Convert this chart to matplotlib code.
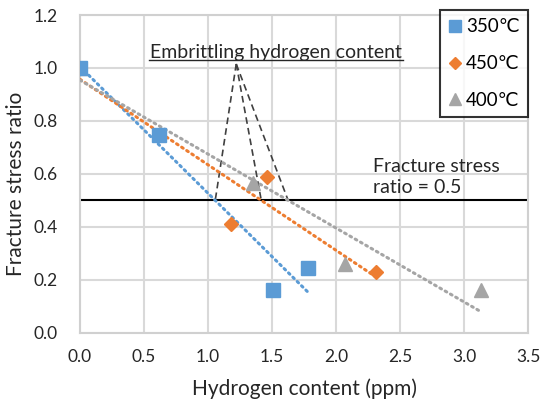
import matplotlib
matplotlib.use('Agg')
import matplotlib.pyplot as plt
import numpy as np

plt.rcParams['font.family'] = ['Lato', 'DejaVu Sans']

# data
x_350 = [0.0, 0.62, 1.51, 1.78]
y_350 = [1.0, 0.745, 0.16, 0.245]
x_450 = [0.0, 1.18, 1.46, 2.31]
y_450 = [1.0, 0.41, 0.59, 0.23]
x_400 = [0.0, 1.35, 2.07, 3.135]
y_400 = [1.0, 0.565, 0.26, 0.16]

series_labels = ['350\u2103', '450\u2103', '400\u2103']
threshold = 0.5
apex = (1.22, 1.015)  # top of the dashed "embrittling" lines

x_ticks = [0.0, 0.5, 1.0, 1.5, 2.0, 2.5, 3.0, 3.5]
y_ticks = [0.0, 0.2, 0.4, 0.6, 0.8, 1.0, 1.2]

colors = ['#5B9BD5', '#ED7D31', '#A5A5A5']
markers = ['s', 'D', '^']
msizes = [10, 7.5, 10]
txt = '#262626'

fig = plt.figure(figsize=(5.42, 4.0), dpi=100)
ax = fig.add_axes([0.1476, 0.168, 0.827, 0.7945])

series = [(x_350, y_350), (x_450, y_450), (x_400, y_400)]
zorders = [6, 5, 4]
crossings = []
for (xs, ys), c, m, ms, lab, z in zip(series, colors, markers, msizes, series_labels, zorders):
    ax.plot(xs, ys, linestyle='none', marker=m, color=c, markersize=ms,
            label=lab, zorder=z)
    # linear trendline (least squares fit like the spreadsheet)
    slope, inter = np.polyfit(xs, ys, 1)
    tx = np.array([0.0, max(xs)])
    ax.plot(tx, slope * tx + inter, linestyle=(0, (0.6, 1.4)), linewidth=2.2,
            color=c, dash_capstyle='round', zorder=3)
    crossings.append((threshold - inter) / slope)

# fracture stress ratio line
ax.axhline(threshold, color='black', linewidth=1.5, zorder=2)

# dashed lines from the label down to where each trendline hits 0.5
for xc in crossings:
    ax.plot([apex[0], xc], [apex[1], threshold], color='#404040',
            linestyle=(0, (4, 2.5)), linewidth=1.2, zorder=2)

ax.text(1.53, 1.06, 'Embrittling hydrogen content', ha='center', va='center',
        fontsize=14, color=txt)
ax.plot([0.54, 2.52], [1.03, 1.03], color=txt, linewidth=1.0)

ax.text(2.29, 0.528, 'Fracture stress\nratio = 0.5', ha='left', va='baseline',
        fontsize=14, color=txt, linespacing=1.3)

ax.set_xlim(0, 3.5)
ax.set_ylim(0, 1.2)
ax.set_xticks(x_ticks)
ax.set_yticks(y_ticks)
ax.set_xticklabels([f'{v:.1f}' for v in x_ticks])
ax.set_yticklabels([f'{v:.1f}' for v in y_ticks])
ax.tick_params(length=0, labelsize=12.5, colors=txt)
ax.tick_params(axis='x', pad=12)
ax.tick_params(axis='y', pad=16)
ax.grid(True, color='#D9D9D9', linewidth=1.5, zorder=0)
ax.set_axisbelow(True)
for sp in ax.spines.values():
    sp.set_color('#D0D0D0')
    sp.set_linewidth(1.5)

ax.set_xlabel('Hydrogen content (ppm)', fontsize=15, color=txt)
ax.set_ylabel('Fracture stress ratio', fontsize=15, color=txt)
ax.xaxis.label.set_verticalalignment('baseline')
ax.xaxis.set_label_coords(0.5, -0.195)
ax.yaxis.label.set_verticalalignment('center')
ax.yaxis.set_label_coords(-0.142, 0.47)

leg = ax.legend(loc='upper right', bbox_to_anchor=(528 / 542, 1 - 10 / 400),
                bbox_transform=fig.transFigure, borderaxespad=0, fontsize=13.5,
                frameon=True, fancybox=False, edgecolor='black',
                handlelength=0.7, handletextpad=0.25, labelspacing=1.05,
                borderpad=0.45, markerscale=0.8)
leg.get_frame().set_linewidth(1.5)
leg.set_zorder(10)

fig.savefig('out.png', dpi=100)
